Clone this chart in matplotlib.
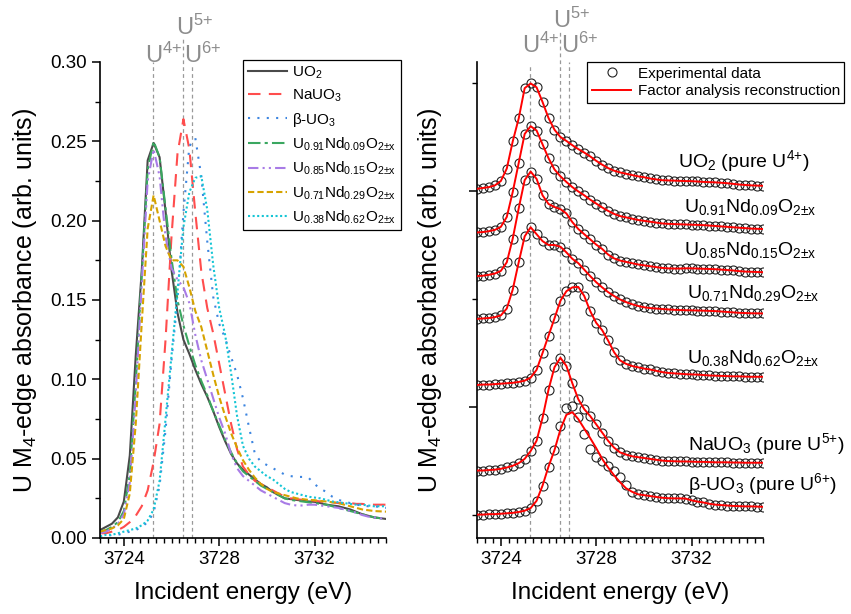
import numpy as np
import matplotlib
matplotlib.use("Agg")
import matplotlib.pyplot as plt
from matplotlib.ticker import MultipleLocator, AutoMinorLocator, FixedLocator, NullFormatter

plt.rcParams['font.family'] = ['Liberation Sans', 'DejaVu Sans']
plt.rcParams['mathtext.fontset'] = 'custom'
plt.rcParams['mathtext.rm'] = 'Liberation Sans'
plt.rcParams['mathtext.it'] = 'Liberation Sans:italic'
plt.rcParams['mathtext.bf'] = 'Liberation Sans:bold'
plt.rcParams['mathtext.default'] = 'regular'

# incident energy grid (eV)
energy = np.linspace(3723.0, 3735.0, 49)

uo2 = [0.005, 0.007, 0.009, 0.013, 0.023, 0.052, 0.115, 0.168,
       0.238, 0.249, 0.240, 0.206, 0.169, 0.142, 0.125, 0.116,
       0.106, 0.097, 0.089, 0.080, 0.070, 0.061, 0.053, 0.047,
       0.043, 0.040, 0.037, 0.034, 0.032, 0.029, 0.027, 0.025,
       0.0245, 0.024, 0.0235, 0.023, 0.0228, 0.022, 0.021, 0.0205,
       0.020, 0.019, 0.018, 0.0165, 0.015, 0.014, 0.013, 0.0125, 0.012]

nauo3 = [0.003, 0.003, 0.004, 0.005, 0.007, 0.010, 0.014, 0.020,
         0.030, 0.048, 0.072, 0.125, 0.190, 0.242, 0.264, 0.245,
         0.205, 0.168, 0.145, 0.129, 0.110, 0.091, 0.072, 0.056,
         0.045, 0.040, 0.036, 0.034, 0.032, 0.030, 0.028, 0.026,
         0.025, 0.0245, 0.024, 0.024, 0.0235, 0.023, 0.023, 0.0225,
         0.022, 0.022, 0.022, 0.0215, 0.0215, 0.021, 0.021, 0.021, 0.021]

buo3 = [0.001, 0.001, 0.002, 0.002, 0.003, 0.004, 0.005, 0.007,
        0.010, 0.016, 0.033, 0.068, 0.112, 0.150, 0.205, 0.247,
        0.252, 0.228, 0.187, 0.152, 0.135, 0.126, 0.114, 0.103,
        0.088, 0.070, 0.053, 0.048, 0.046, 0.044, 0.042, 0.040,
        0.039, 0.0385, 0.0385, 0.038, 0.034, 0.031, 0.029, 0.026,
        0.024, 0.023, 0.022, 0.021, 0.0205, 0.020, 0.020, 0.0195, 0.019]

u91 = [0.004, 0.005, 0.007, 0.010, 0.017, 0.040, 0.098, 0.165,
       0.232, 0.250, 0.240, 0.208, 0.176, 0.150, 0.134, 0.121,
       0.109, 0.099, 0.090, 0.080, 0.071, 0.062, 0.054, 0.047,
       0.042, 0.039, 0.036, 0.033, 0.031, 0.029, 0.027, 0.025,
       0.024, 0.0235, 0.023, 0.0225, 0.022, 0.0215, 0.021, 0.020,
       0.019, 0.018, 0.017, 0.016, 0.015, 0.014, 0.013, 0.0125, 0.012]

u85 = [0.003, 0.004, 0.006, 0.009, 0.015, 0.035, 0.090, 0.160,
       0.225, 0.245, 0.228, 0.190, 0.170, 0.163, 0.158, 0.148,
       0.128, 0.112, 0.100, 0.088, 0.076, 0.066, 0.053, 0.044,
       0.039, 0.036, 0.033, 0.030, 0.028, 0.026, 0.024, 0.022,
       0.021, 0.0205, 0.0205, 0.021, 0.021, 0.0205, 0.020, 0.0195,
       0.019, 0.018, 0.017, 0.016, 0.0145, 0.0135, 0.013, 0.0125, 0.012]

u71 = [0.004, 0.005, 0.006, 0.008, 0.012, 0.028, 0.072, 0.135,
       0.195, 0.216, 0.200, 0.184, 0.175, 0.175, 0.171, 0.158,
       0.143, 0.133, 0.118, 0.103, 0.089, 0.077, 0.066, 0.057,
       0.049, 0.043, 0.038, 0.034, 0.031, 0.029, 0.028, 0.027,
       0.026, 0.025, 0.0245, 0.024, 0.0238, 0.0233, 0.023, 0.0225,
       0.022, 0.021, 0.020, 0.019, 0.018, 0.0175, 0.017, 0.0168, 0.0166]

u38 = [0.001, 0.002, 0.002, 0.003, 0.004, 0.005, 0.006, 0.008,
       0.011, 0.018, 0.036, 0.075, 0.115, 0.155, 0.196, 0.218,
       0.227, 0.228, 0.207, 0.172, 0.145, 0.128, 0.104, 0.077,
       0.058, 0.050, 0.045, 0.042, 0.039, 0.037, 0.034, 0.031,
       0.029, 0.028, 0.027, 0.026, 0.0255, 0.025, 0.024, 0.023,
       0.0225, 0.022, 0.0215, 0.021, 0.021, 0.0205, 0.020, 0.020, 0.020]

# factor analysis reconstruction of beta-UO3 (others follow the data)
buo3_fit = [0.001, 0.001, 0.002, 0.002, 0.003, 0.004, 0.005, 0.007,
            0.010, 0.016, 0.033, 0.068, 0.112, 0.150, 0.198, 0.232,
            0.238, 0.222, 0.200, 0.178, 0.155, 0.130, 0.110, 0.092,
            0.076, 0.062, 0.054, 0.048, 0.046, 0.044, 0.042, 0.040,
            0.039, 0.0385, 0.0385, 0.038, 0.034, 0.031, 0.029, 0.026,
            0.024, 0.023, 0.022, 0.021, 0.0205, 0.020, 0.020, 0.0195, 0.019]

# oxidation state reference energies
e_u4, e_u5, e_u6 = 3725.22, 3726.50, 3726.85

sub = r'$_{2{\pm}x}$'
names = ['UO$_2$', 'NaUO$_3$', 'β-UO$_3$',
         'U$_{0.91}$Nd$_{0.09}$O' + sub,
         'U$_{0.85}$Nd$_{0.15}$O' + sub,
         'U$_{0.71}$Nd$_{0.29}$O' + sub,
         'U$_{0.38}$Nd$_{0.62}$O' + sub]
spectra = [uo2, nauo3, buo3, u91, u85, u71, u38]
colors = ['#4a4a4a', '#ff4d4d', '#3d85e0', '#3aa760', '#a87be6', '#d6a300', '#15c5d5']
dashes = [None, (6, 4), (1, 3.5), (6, 2, 1.5, 2), (5, 2, 1, 2, 1, 2), (3, 1.5), (1, 1.2)]

# right panel: order, offsets and labels
stack_order = [0, 3, 4, 5, 6, 1, 2]
offsets = [0.75, 0.65, 0.55, 0.45, 0.30, 0.10, 0.0]
stack_labels = ['UO$_2$ (pure U$^{4{+}}$)',
                'U$_{0.91}$Nd$_{0.09}$O' + sub,
                'U$_{0.85}$Nd$_{0.15}$O' + sub,
                'U$_{0.71}$Nd$_{0.29}$O' + sub,
                'U$_{0.38}$Nd$_{0.62}$O' + sub,
                'NaUO$_3$ (pure U$^{5{+}}$)',
                'β-UO$_3$ (pure U$^{6{+}}$)']
label_pos = [(3731.45, 0.806), (3731.7, 0.702), (3731.7, 0.602), (3731.8, 0.503),
             (3731.8, 0.352), (3731.85, 0.151), (3731.85, 0.058)]

fig = plt.figure(figsize=(8.51, 6.14), dpi=100)
ax1 = fig.add_axes([100/851, 76/614, 286/851, 476/614])
ax2 = fig.add_axes([477/851, 76/614, 286/851, 476/614])

for i in range(len(spectra)):
    ln, = ax1.plot(energy, spectra[i], color=colors[i], lw=1.5, label=names[i])
    if dashes[i] is not None:
        ln.set_dashes(dashes[i])

for k, idx in enumerate(stack_order):
    y = np.array(spectra[idx]) + offsets[k]
    ax2.plot(energy, y, 'o', ms=6.5, mfc='none', mec='#222222', mew=0.8,
             label='Experimental data' if k == 0 else None, zorder=2)
    fit = buo3_fit if idx == 2 else spectra[idx]
    ax2.plot(energy, np.array(fit) + offsets[k], color='#ff0000', lw=1.4,
             label='Factor analysis reconstruction' if k == 0 else None, zorder=3)
    ax2.text(label_pos[k][0], label_pos[k][1], stack_labels[k], fontsize=14,
             ha='left', va='baseline', clip_on=False)

gray = '#8c8c8c'
for ax, tops, ys in [(ax1, (1.0, 1.05, 0.995), (0.998, 1.057)),
                     (ax2, (0.995, 1.065, 1.0), (1.019, 1.071))]:
    for e, top in zip((e_u4, e_u5, e_u6), tops):
        ax.axvline(e, 0, top, color='#999999', lw=0.9, ls=(0, (3, 2.5)), clip_on=False, zorder=1)
    for e, s, yy in [(e_u4, 'U$^{4{+}}$', ys[0]), (e_u5, 'U$^{5{+}}$', ys[1]), (e_u6, 'U$^{6{+}}$', ys[0])]:
        ax.annotate(s, xy=(e, yy), xycoords=('data', 'axes fraction'), xytext=(-5.5, 0),
                    textcoords='offset points', ha='left', va='baseline', fontsize=17,
                    color=gray, annotation_clip=False)

for ax in (ax1, ax2):
    ax.set_xlim(3723, 3735)
    ax.spines['top'].set_visible(False)
    ax.spines['right'].set_visible(False)
    ax.spines['left'].set_linewidth(1.2)
    ax.spines['bottom'].set_linewidth(1.2)
    ax.xaxis.set_major_locator(MultipleLocator(4))
    ax.xaxis.set_minor_locator(AutoMinorLocator(12))
    ax.tick_params(which='major', direction='out', length=6, width=1.1, labelsize=13.5)
    ax.tick_params(which='minor', direction='out', length=3.5, width=1.0)
    ax.set_xlabel('Incident energy (eV)', fontsize=17.5, labelpad=10)
    ax.set_ylabel('U M$_4$-edge absorbance (arb. units)', fontsize=18, labelpad=8)

ax1.set_ylim(0, 0.30)
ax1.yaxis.set_major_locator(MultipleLocator(0.05))
ax1.yaxis.set_minor_locator(MultipleLocator(0.025))
ax1.yaxis.set_major_formatter(plt.FormatStrFormatter('%.2f'))

ax2.set_ylim(-0.0532, 1.0486)
ax2.yaxis.set_major_locator(FixedLocator([0.25, 0.75]))
ax2.yaxis.set_minor_locator(FixedLocator([0.0, 0.5, 1.0]))
ax2.yaxis.set_major_formatter(NullFormatter())
ax2.set_ylabel('U M$_4$-edge absorbance (arb. units)', fontsize=18, labelpad=14)

leg1 = ax1.legend(loc='upper left', bbox_to_anchor=(0.5, 1.005), borderaxespad=0,
                  fontsize=11, handlelength=2.6, labelspacing=0.45, fancybox=False,
                  edgecolor='black', framealpha=1, handletextpad=0.3, borderpad=0.3)
leg1.get_frame().set_linewidth(0.9)
leg2 = ax2.legend(loc='upper left', bbox_to_anchor=(0.385, 1.0), borderaxespad=0,
                  fontsize=11, handlelength=2.6, labelspacing=0.25, fancybox=False,
                  edgecolor='black', framealpha=1, handletextpad=0.4, borderpad=0.3)
leg2.get_frame().set_linewidth(0.9)

fig.savefig('out.png', dpi=100)
